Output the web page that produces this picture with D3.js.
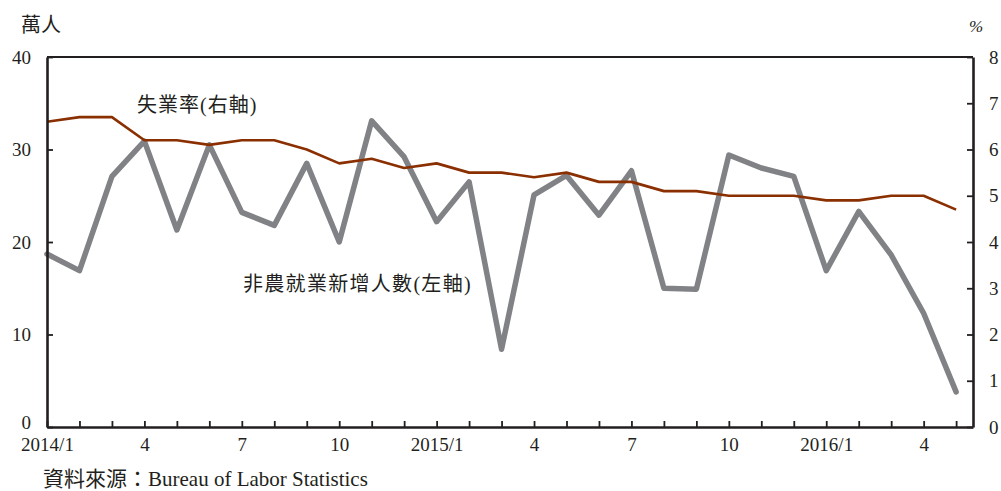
<!DOCTYPE html>
<html>
<head>
<meta charset="utf-8">
<script src="https://cdn.jsdelivr.net/npm/d3@7"></script>
<style>
  body { margin: 0; background: #fff; }
  text { fill: #231f20; }
</style>
</head>
<body>
<svg id="chart" width="1001" height="491"></svg>
<script>
const months = ["2014/1","2","3","4","5","6","7","8","9","10","11","12",
  "2015/1","2","3","4","5","6","7","8","9","10","11","12",
  "2016/1","2","3","4","5"];
const tickLabels = {0:"2014/1",3:"4",6:"7",9:"10",12:"2015/1",15:"4",18:"7",21:"10",24:"2016/1",27:"4"};
const payrolls = [18.7,16.9,27.1,30.9,21.3,30.5,23.2,21.8,28.5,20.0,33.1,29.2,
  22.2,26.5,8.4,25.1,27.2,22.9,27.7,15.0,14.9,29.4,28.0,27.1,
  16.9,23.3,18.6,12.3,3.8];
const unemployment = [6.6,6.7,6.7,6.2,6.2,6.1,6.2,6.2,6.0,5.7,5.8,5.6,
  5.7,5.5,5.5,5.4,5.5,5.3,5.3,5.1,5.1,5.0,5.0,5.0,
  4.9,4.9,5.0,5.0,4.7];
const leftTicks = [0,10,20,30,40];
const rightTicks = [0,1,2,3,4,5,6,7,8];

const margin = {top: 57, right: 28, bottom: 64, left: 47};
const svg = d3.select("#chart");
const width = 1001 - margin.left - margin.right;
const height = 491 - margin.top - margin.bottom;
const g = svg.append("g").attr("transform", `translate(${margin.left},${margin.top})`);

const x = d3.scaleLinear().domain([0, 28.52]).range([0, width]);
const yL = d3.scaleLinear().domain([0, 40]).range([height, 0]);
const yR = d3.scaleLinear().domain([0, 8]).range([height, 0]);

const numFont = "'Liberation Serif', 'DejaVu Serif', serif";
const cjkFont = "'Liberation Serif', 'Noto Sans CJK TC', serif";
const axisColor = "#231f20";

// top border
g.append("line").attr("x1", 0).attr("x2", width).attr("y1", 0).attr("y2", 0)
  .attr("stroke", axisColor).attr("stroke-width", 1.8);

// lines
const grayLine = d3.line().x((d, i) => x(i)).y(d => yL(d));
g.append("path").datum(payrolls)
  .attr("d", grayLine)
  .attr("fill", "none").attr("stroke", "#808285").attr("stroke-width", 5.5)
  .attr("stroke-linejoin", "round").attr("stroke-linecap", "round");

const redLine = d3.line().x((d, i) => x(i)).y(d => yR(d));
g.append("path").datum(unemployment)
  .attr("d", redLine)
  .attr("fill", "none").attr("stroke", "#8a2f00").attr("stroke-width", 2.6)
  .attr("stroke-linejoin", "round");

// axes
const leftAxis = d3.axisLeft(yL).tickValues(leftTicks).tickSizeInner(-6).tickSizeOuter(0).tickPadding(16);
const rightAxis = d3.axisRight(yR).tickValues(rightTicks).tickSizeInner(-6).tickSizeOuter(0).tickPadding(16);
const bottomAxis = d3.axisBottom(x).tickValues(d3.range(months.length))
  .tickFormat(i => tickLabels[i] || "").tickSizeInner(-6).tickSizeOuter(0).tickPadding(12);

const styleAxis = sel => {
  sel.select(".domain").attr("stroke", axisColor).attr("stroke-width", 2.6);
  sel.selectAll(".tick line").attr("stroke", axisColor).attr("stroke-width", 1.8);
  sel.selectAll(".tick text").attr("font-family", numFont).attr("font-size", 19).attr("fill", "#231f20");
};

g.append("g").call(leftAxis).call(styleAxis)
  .selectAll(".tick text").attr("dy", d => d === 0 ? "0.1em" : "0.32em");
g.append("g").attr("transform", `translate(${width},0)`).call(rightAxis).call(styleAxis);
g.append("g").attr("transform", `translate(0,${height})`).call(bottomAxis).call(styleAxis)
  .selectAll(".tick text").attr("dy", "0.62em");

// units
svg.append("text").attr("x", 21).attr("y", 32).text("萬人")
  .attr("font-family", cjkFont).attr("font-size", 20);
svg.append("text").attr("x", 969).attr("y", 32).text("%")
  .attr("font-family", numFont).attr("font-size", 17).attr("font-style", "italic");

// series labels
svg.append("text").attr("x", 137).attr("y", 112).text("失業率(右軸)")
  .attr("font-family", cjkFont).attr("font-size", 20).attr("letter-spacing", 1);
svg.append("text").attr("x", 243).attr("y", 291).text("非農就業新增人數(左軸)")
  .attr("font-family", cjkFont).attr("font-size", 20).attr("letter-spacing", 1.3);

// source
svg.append("text").attr("x", 43).attr("y", 486).text("資料來源：Bureau of Labor Statistics")
  .attr("font-family", cjkFont).attr("font-size", 21);
</script>
</body>
</html>
